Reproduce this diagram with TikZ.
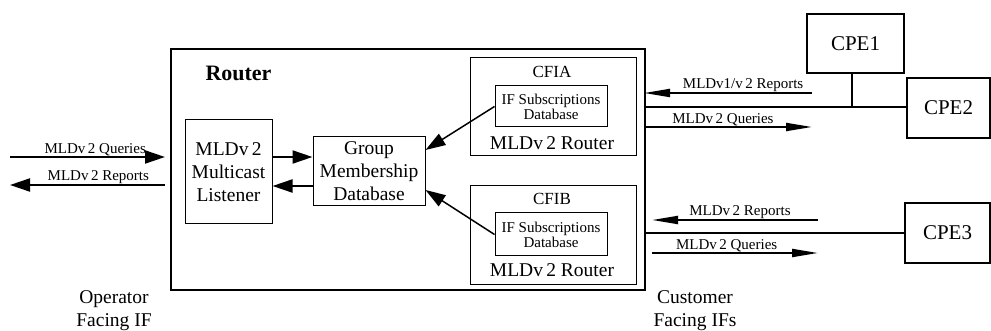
\documentclass[tikz,border=0pt]{standalone}
\usepackage{fontspec}
\setmainfont{Liberation Serif}
\usetikzlibrary{arrows.meta}
\newcommand{\mld}{MLDv\,2}
\tikzset{
  box/.style={draw, line width=1pt, inner sep=0pt, align=center},
  heavybox/.style={draw, line width=1.8pt, inner sep=0pt, align=center},
  bigtxt/.style={font=\fontsize{19.5}{23}\selectfont},
  midtxt/.style={font=\fontsize{17}{18}\selectfont},
  smalltxt/.style={font=\fontsize{15}{15}\selectfont},
  cpetxt/.style={font=\fontsize{21}{22}\selectfont},
  lbl/.style={font=\fontsize{15}{16}\selectfont, inner sep=0.5pt, above},
  fatarrow/.style={line width=2pt, -{Triangle[length=20pt,width=13pt]}},
  slimarrow/.style={line width=2pt, -{Triangle[length=26pt,width=8pt]}},
  wire/.style={line width=1.8pt},
}
\begin{document}
\begin{tikzpicture}[x=1pt,y=-1pt]
\useasboundingbox (0,0) rectangle (991,331);

% Router enclosure and its functional blocks
\node[heavybox, minimum width=474pt, minimum height=241pt] (router) at (408,169.5) {};
\node[font=\fontsize{22}{24}\selectfont\bfseries] (routerlbl) at (238.5,73) {Router};

\node[box, bigtxt, minimum width=87pt, minimum height=104pt] (listener) at (228.5,172)
  {\mld\\Multicast\\Listener};
\node[box, bigtxt, minimum width=112pt, minimum height=69pt] (gmd) at (369,171.5)
  {Group\\Membership\\Database};

\node[box, minimum width=166pt, minimum height=98pt] (cfia) at (553,107) {};
\node[midtxt] (cfiatitle) at (552,72) {CFIA};
\node[box, smalltxt, minimum width=112pt, minimum height=41pt] (ifa) at (551,106.5)
  {IF Subscriptions\\Database};
\node[bigtxt] (cfiarouter) at (552,143) {\mld{} Router};

\node[box, minimum width=166pt, minimum height=99pt] (cfib) at (553,235.5) {};
\node[midtxt] (cfibtitle) at (552,199) {CFIB};
\node[box, smalltxt, minimum width=112pt, minimum height=43pt] (ifb) at (551,234.5)
  {IF Subscriptions\\Database};
\node[bigtxt] (cfibrouter) at (552,270) {\mld{} Router};

% Internal flows
\draw[fatarrow] (listener.east |- 0,157) -- (gmd.west |- 0,157);
\draw[fatarrow] (gmd.west |- 0,186) -- (listener.east |- 0,186);
\draw[fatarrow, line width=1.5pt] (ifa.west) -- ([yshift=21.5pt]gmd.east);
\draw[fatarrow, line width=1.5pt] (ifb.west) -- ([yshift=-18.5pt]gmd.east);

% Customer premises equipment
\node[heavybox, cpetxt, minimum width=97pt, minimum height=59pt] (cpe1) at (855.5,43.5) {CPE1};
\node[heavybox, cpetxt, minimum width=83pt, minimum height=60pt] (cpe2) at (948.5,108) {CPE2};
\node[heavybox, cpetxt, minimum width=85pt, minimum height=60pt] (cpe3) at (947.5,233) {CPE3};

% Customer facing links
\coordinate (tap) at (852,107);
\draw[wire] (router.east |- tap) -- (cpe2.west |- tap);
\draw[wire] (cpe1.south -| tap) -- (tap);
\draw[wire] (router.east |- cpe3.west) -- (cpe3.west);

% Operator side messages
\coordinate (oqa) at (10,157);   \coordinate (oqb) at (165,157);
\coordinate (ora) at (165,185);  \coordinate (orb) at (10,185);
\draw[fatarrow] (oqa) -- (oqb) node[lbl, pos=0.55] {\mld{} Queries};
\draw[fatarrow] (ora) -- (orb) node[lbl, pos=0.43] {\mld{} Reports};

% Customer side messages, upper pair
\coordinate (ura) at (812,93);   \coordinate (urb) at (644,93);
\coordinate (uqa) at (644,127);  \coordinate (uqb) at (812,127);
\draw[slimarrow] (ura) -- (urb) node[lbl, pos=0.41] {MLDv1/v\,2 Reports};
\draw[slimarrow] (uqa) -- (uqb) node[lbl, pos=0.47] {\mld{} Queries};

% Customer side messages, lower pair
\coordinate (lra) at (818,220);  \coordinate (lrb) at (652,220);
\coordinate (lqa) at (652,253);  \coordinate (lqb) at (818,253);
\draw[slimarrow] (lra) -- (lrb) node[lbl, pos=0.47] {\mld{} Reports};
\draw[slimarrow] (lqa) -- (lqb) node[lbl, pos=0.45] {\mld{} Queries};

% Interface captions
\node[bigtxt, align=center] (opcap) at (114,311) {Operator\\Facing IF};
\node[bigtxt, align=center] (cucap) at (695,311) {Customer\\Facing IFs};
\end{tikzpicture}
\end{document}
